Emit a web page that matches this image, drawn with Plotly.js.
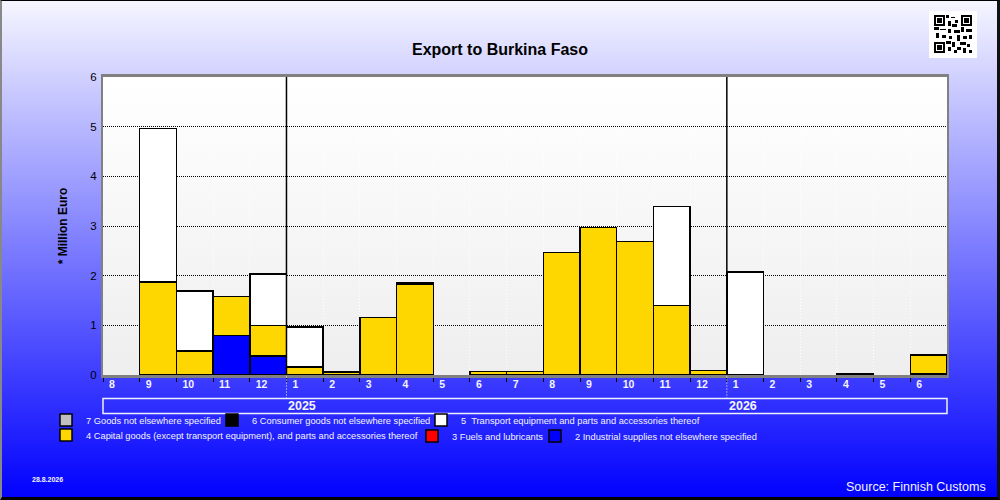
<!DOCTYPE html>
<html>
<head>
<meta charset="utf-8">
<script src="https://cdn.plot.ly/plotly-3.0.1.min.js"></script>
<style>
html,body{margin:0;padding:0;background:#fff;}
#wrap{position:relative;width:1000px;height:500px;overflow:hidden;background:linear-gradient(to bottom,#f6f6ff 0%,#0000ff 100%);}
#plotbg{position:absolute;left:103px;top:77px;width:844px;height:298px;background:linear-gradient(to bottom,#ffffff,#eeeeee);}
#chart{position:absolute;left:0;top:0;width:1000px;height:500px;}
#frame{position:absolute;left:0;top:0;width:1000px;height:500px;box-sizing:border-box;border-top:1px solid #000;border-left:2px solid #888;border-right:3px solid #111;border-bottom:3px solid #000;pointer-events:none;}
#qr{position:absolute;left:929px;top:11px;width:48px;height:47px;background:#fff;}
#qr svg{position:absolute;left:5px;top:4px;}
</style>
</head>
<body>
<div id="wrap">
  <div id="plotbg"></div>
  <div id="chart"></div>
  <div id="qr">
    <svg width="38" height="38" viewBox="0 0 25 25" shape-rendering="crispEdges">
      <g fill="#000">
        <rect x="0" y="0" width="7" height="7"/><rect x="18" y="0" width="7" height="7"/><rect x="0" y="18" width="7" height="7"/>
      </g>
      <g fill="#fff">
        <rect x="1" y="1" width="5" height="5"/><rect x="19" y="1" width="5" height="5"/><rect x="1" y="19" width="5" height="5"/>
      </g>
      <g fill="#000">
        <rect x="2" y="2" width="3" height="3"/><rect x="20" y="2" width="3" height="3"/><rect x="2" y="20" width="3" height="3"/>
        <rect x="8" y="0" width="2" height="2"/><rect x="11" y="1" width="3" height="1"/><rect x="14" y="3" width="2" height="2"/><rect x="9" y="4" width="2" height="3"/>
        <rect x="12" y="6" width="3" height="2"/><rect x="0" y="8" width="3" height="2"/><rect x="4" y="9" width="4" height="1"/><rect x="9" y="9" width="2" height="3"/>
        <rect x="13" y="10" width="4" height="2"/><rect x="18" y="8" width="2" height="3"/><rect x="21" y="9" width="4" height="2"/><rect x="1" y="12" width="2" height="3"/>
        <rect x="5" y="13" width="3" height="2"/><rect x="10" y="14" width="2" height="2"/><rect x="15" y="13" width="2" height="4"/><rect x="19" y="14" width="3" height="2"/>
        <rect x="23" y="13" width="2" height="3"/><rect x="8" y="17" width="3" height="2"/><rect x="12" y="18" width="2" height="3"/><rect x="17" y="18" width="4" height="2"/>
        <rect x="22" y="19" width="2" height="2"/><rect x="9" y="21" width="2" height="3"/><rect x="15" y="21" width="3" height="2"/><rect x="19" y="22" width="2" height="3"/>
        <rect x="13" y="23" width="2" height="2"/><rect x="23" y="23" width="2" height="2"/>
      </g>
    </svg>
  </div>
  <div id="frame"></div>
</div>
<script>
// ---- data ----
const months = ['8','9','10','11','12','1','2','3','4','5','6','7','8','9','10','11','12','1','2','3','4','5','6'];
const monthYears = [2024,2024,2024,2024,2024,2025,2025,2025,2025,2025,2025,2025,2025,2025,2025,2025,2025,2026,2026,2026,2026,2026,2026];

const industrial = [0,0,0,0.80,0.38,0,0,0,0,0,0,0,0,0,0,0,0,0,0,0,0,0,0.03];
const fuels      = [0,0,0,0,0,0,0,0,0,0,0,0,0,0,0,0,0,0,0,0,0,0,0];
const capital    = [0,1.87,0.48,0.78,0.62,0.16,0.06,1.16,1.82,0,0.07,0.07,2.47,2.97,2.69,1.40,0.09,0,0,0,0,0,0.37];
const transport  = [0,3.09,1.21,0,1.03,0.81,0,0,0,0,0,0,0,0,0,1.99,0,2.07,0,0,0,0,0];
const consumer   = [0,0,0,0,0,0,0,0,0.03,0,0,0,0,0,0,0,0,0,0,0,0.02,0,0];
const otherGoods = [0,0,0,0,0,0,0,0,0,0,0,0,0,0,0,0,0,0,0,0,0,0,0];

const seriesNames = [
  '2 Industrial supplies not elsewhere specified',
  '3 Fuels and lubricants',
  '4 Capital goods (except transport equipment), and parts and accessories thereof',
  '5\u00a0 Transport equipment and parts and accessories thereof',
  '6 Consumer goods not elsewhere specified',
  '7 Goods not elsewhere specified'
];
const seriesValues = [industrial, fuels, capital, transport, consumer, otherGoods];
const seriesColors = ['#0000ff','#ff0000','#ffd700','#ffffff','#000000','#c0c0c0'];

const titleText = 'Export to Burkina Faso';
const yTitle = '* Million Euro';
const sourceText = 'Source: Finnish Customs';
const dateText = '28.8.2026';

// ---- geometry ----
const W = 1000, H = 500;
const PL = 103, PR = 947, PT = 77, PB = 375;
const px2x = p => (p - PL) / (PR - PL);
const py2y = p => (PB - p) / (PB - PT);

// legend placement (swatch left, centre y) per series
const legendPos = [[551,436],[428,436],[62,435],[437,420],[228,420],[62,420]];

const idx = months.map((m, i) => i + 0.5);
const traces = seriesValues.map((vals, k) => ({
  type: 'bar',
  x: idx,
  y: vals.map(v => v === 0 ? null : v),
  width: 1,
  name: seriesNames[k],
  marker: {color: seriesColors[k], line: {color: '#000', width: 1.5}},
  legend: k === 0 ? 'legend' : 'legend' + (k + 1),
  hoverinfo: 'skip'
}));

const layout = {
  width: W, height: H,
  margin: {l: PL, r: W - PR, t: PT, b: H - PB, pad: 0},
  paper_bgcolor: 'rgba(0,0,0,0)',
  plot_bgcolor: 'rgba(0,0,0,0)',
  barmode: 'stack',
  bargap: 0,
  font: {family: 'Arial, "Liberation Sans", sans-serif', color: '#000'},
  title: {text: titleText, x: 0.5, xref: 'container', xanchor: 'center', y: 1 - 49 / H, yref: 'container', yanchor: 'middle',
          font: {size: 16, weight: 'bold', color: '#000'}},
  xaxis: {
    range: [0, months.length], fixedrange: true,
    tickmode: 'array', tickvals: months.map((m, i) => i), ticktext: months,
    ticks: 'outside', ticklen: 4, tickcolor: '#000', tickwidth: 1,
    ticklabelposition: 'outside right', ticklabelshift: 4, ticklabelstandoff: -3,
    tickfont: {size: 10.5, weight: 'bold', color: '#f4f4ff'},
    showgrid: true, gridcolor: '#ffffff', griddash: '1px,2px', gridwidth: 1,
    showline: true, linecolor: '#808080', linewidth: 3, mirror: true,
    zeroline: false
  },
  yaxis: {
    range: [0, 6], dtick: 1, fixedrange: true,
    ticks: '', tickfont: {size: 11.5, color: '#000'}, ticklabelstandoff: 2,
    showgrid: true, gridcolor: '#000', griddash: '1px,1px', gridwidth: 1,
    showline: true, linecolor: '#808080', linewidth: 2, mirror: true,
    zeroline: false,
    title: {text: yTitle, font: {size: 12, weight: 'bold', color: '#000'}, standoff: 20}
  },
  shapes: [],
  annotations: [],
  showlegend: true
};

// legends, one per series
seriesNames.forEach((n, k) => {
  const key = k === 0 ? 'legend' : 'legend' + (k + 1);
  const [sx, sy] = legendPos[k];
  layout[key] = {
    xref: 'container', yref: 'container',
    x: (sx - 16) / W, y: 1 - sy / H, xanchor: 'left', yanchor: 'middle',
    orientation: 'h', bgcolor: 'rgba(0,0,0,0)', borderwidth: 0,
    itemwidth: 30, font: {size: 9.3, color: '#f4f4ff'}, itemclick: false
  };
});

// year boundaries
const yBoxTop = py2y(398.5), yBoxBot = py2y(413.5);
months.forEach((m, i) => {
  if (i > 0 && monthYears[i] !== monthYears[i - 1]) {
    layout.shapes.push({type: 'line', xref: 'x', yref: 'paper', x0: i, x1: i, y0: 0, y1: 1,
      line: {color: '#000', width: 1.5}, layer: 'above'});
    layout.shapes.push({type: 'line', xref: 'x', yref: 'paper', x0: i, x1: i, y0: py2y(376.5), y1: yBoxTop,
      line: {color: '#ffffff', width: 1, dash: '1px,2px'}, layer: 'above'});
    layout.annotations.push({xref: 'x', yref: 'paper', x: i, y: (yBoxTop + yBoxBot) / 2, xanchor: 'left', yanchor: 'middle',
      text: String(monthYears[i]), showarrow: false, xshift: 0,
      font: {size: 12.5, weight: 'bold', color: '#f4f4ff'}});
  }
});
layout.shapes.push({type: 'rect', xref: 'paper', yref: 'paper', x0: 0, x1: 1, y0: yBoxBot, y1: yBoxTop,
  line: {color: '#f0f0ff', width: 1.5}, fillcolor: 'rgba(0,0,0,0)'});

layout.annotations.push({xref: 'paper', yref: 'paper', x: px2x(988), y: py2y(487), xanchor: 'right', yanchor: 'middle',
  text: sourceText, showarrow: false, font: {size: 12.5, color: '#f4f4ff'}});
layout.annotations.push({xref: 'paper', yref: 'paper', x: px2x(30), y: py2y(479), xanchor: 'left', yanchor: 'middle',
  text: dateText, showarrow: false, font: {size: 7, weight: 'bold', color: '#f4f4ff'}});

Plotly.newPlot('chart', traces, layout, {staticPlot: true, displayModeBar: false});
</script>
</body>
</html>
